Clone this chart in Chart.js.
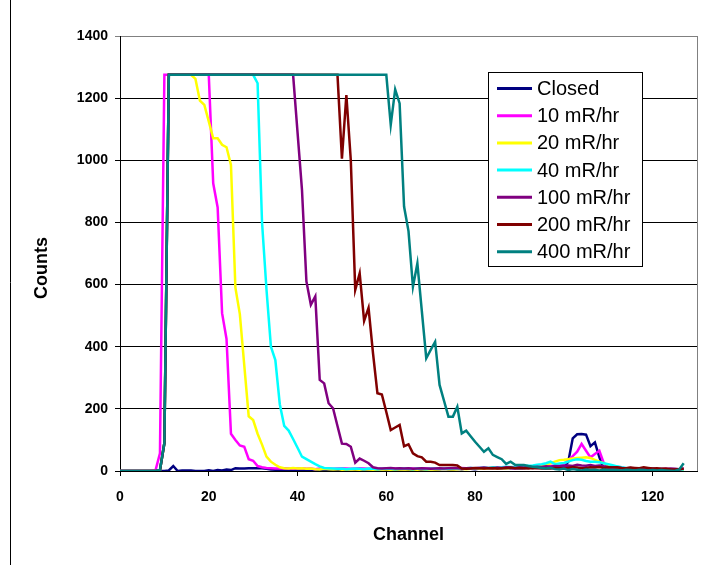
<!DOCTYPE html>
<html>
<head>
<meta charset="utf-8">
<title>Counts vs Channel</title>
<script src="https://cdn.jsdelivr.net/npm/chart.js@4.4.1/dist/chart.umd.min.js"></script>
<style>
  body { margin: 0; background: #fff; }
  #wrap { width: 717px; height: 565px; }
</style>
</head>
<body>
<div id="wrap"><canvas id="spectrumChart" width="717" height="565"></canvas></div>
<script>
// Channel numbers (x values)
const channels = Array.from({ length: 128 }, (_, i) => i);

// Series labels
const seriesLabels = ['Closed', '10 mR/hr', '20 mR/hr', '40 mR/hr', '100 mR/hr', '200 mR/hr', '400 mR/hr'];
const seriesColors = ['#000080', '#ff00ff', '#ffff00', '#00ffff', '#800080', '#800000', '#008080'];

// Axis ticks
const xTicks = [0, 20, 40, 60, 80, 100, 120];
const yTicks = [0, 200, 400, 600, 800, 1000, 1200, 1400];

// Counts per channel
const closed = [
  0, 0, 0, 0, 0, 0, 0, 0, 0, 0, 0, 2, 16, 0, 2, 2,
  2, 0, 0, 0, 2, 0, 3, 2, 5, 3, 9, 8, 8, 9, 9, 9,
  9, 7, 5, 4, 4, 3, 4, 5, 4, 3, 3, 4, 5, 3, 4, 5,
  4, 3, 4, 5, 6, 4, 5, 6, 5, 4, 5, 6, 4, 5, 6, 5,
  6, 4, 5, 6, 5, 6, 7, 5, 6, 7, 6, 5, 7, 6, 8, 7,
  6, 8, 7, 9, 8, 7, 9, 10, 8, 9, 10, 9, 11, 10, 12, 11,
  12, 14, 16, 14, 12, 30, 105, 118, 119, 117, 80, 92, 45, 5, 4, 3,
  4, 3, 2, 3, 4, 2, 3, 2, 3, 4, 2, 3, 2, 4, 3, 6
];
const r10 = [
  0, 0, 0, 0, 0, 0, 0, 0, 2, 57, 1275, 1275, 1275, 1275, 1275, 1275,
  1275, 1275, 1275, 1275, 1275, 926, 848, 508, 425, 120, 100, 82, 78, 38, 33, 16,
  12, 10, 9, 8, 8, 9, 8, 7, 8, 9, 7, 8, 6, 8, 7, 8,
  7, 8, 9, 8, 7, 8, 9, 8, 7, 9, 8, 7, 8, 9, 8, 7,
  8, 9, 8, 7, 9, 8, 7, 8, 9, 8, 9, 8, 9, 10, 9, 8,
  9, 10, 9, 8, 10, 9, 10, 11, 10, 9, 11, 10, 12, 11, 10, 12,
  14, 16, 18, 20, 22, 35, 48, 62, 87, 65, 44, 55, 65, 25, 10, 8,
  7, 6, 7, 5, 6, 5, 6, 5, 6, 5, 6, 7, 5, 6, 5, 7
];
const r20 = [
  0, 0, 0, 0, 0, 0, 0, 0, 0, 2, 90, 1275, 1275, 1275, 1275, 1275,
  1275, 1262, 1192, 1178, 1125, 1071, 1071, 1050, 1042, 985, 590, 505, 340, 176, 164, 120,
  85, 46, 30, 20, 12, 9, 8, 10, 8, 9, 7, 8, 6, 5, 7, 6,
  5, 6, 4, 5, 6, 5, 4, 6, 5, 4, 5, 6, 5, 4, 5, 6,
  5, 6, 5, 4, 6, 5, 6, 5, 6, 7, 6, 5, 6, 7, 6, 7,
  8, 7, 8, 9, 8, 9, 10, 9, 10, 11, 12, 10, 12, 14, 13, 15,
  20, 25, 30, 35, 36, 38, 40, 42, 43, 44, 42, 36, 30, 25, 18, 14,
  12, 10, 9, 8, 7, 6, 5, 6, 5, 4, 5, 4, 5, 4, 3, 4
];
const r40 = [
  0, 0, 0, 0, 0, 0, 0, 0, 0, 2, 90, 1275, 1275, 1275, 1275, 1275,
  1275, 1275, 1275, 1275, 1275, 1275, 1275, 1275, 1275, 1275, 1275, 1275, 1275, 1275, 1275, 1248,
  800, 585, 400, 357, 215, 145, 130, 103, 75, 46, 38, 30, 22, 15, 10, 9,
  8, 7, 8, 6, 7, 8, 7, 6, 8, 7, 6, 7, 8, 7, 6, 7,
  8, 7, 6, 8, 7, 6, 7, 8, 7, 8, 7, 8, 9, 8, 9, 10,
  9, 10, 11, 10, 12, 11, 12, 14, 13, 14, 16, 15, 17, 18, 20, 22,
  25, 30, 22, 24, 26, 30, 35, 38, 36, 32, 30, 30, 28, 25, 22, 19,
  15, 12, 10, 9, 8, 7, 6, 5, 6, 5, 4, 5, 4, 5, 4, 5
];
const r100 = [
  0, 0, 0, 0, 0, 0, 0, 0, 0, 2, 90, 1275, 1275, 1275, 1275, 1275,
  1275, 1275, 1275, 1275, 1275, 1275, 1275, 1275, 1275, 1275, 1275, 1275, 1275, 1275, 1275, 1275,
  1275, 1275, 1275, 1275, 1275, 1275, 1275, 1275, 1090, 905, 610, 535, 562, 293, 282, 218,
  202, 145, 88, 87, 78, 27, 40, 33, 25, 12, 9, 8, 9, 10, 8, 9,
  8, 9, 7, 8, 9, 8, 7, 8, 9, 8, 9, 10, 9, 8, 9, 10,
  9, 10, 11, 10, 9, 11, 10, 12, 11, 10, 12, 11, 13, 12, 14, 13,
  15, 14, 16, 15, 17, 18, 16, 20, 18, 17, 19, 16, 18, 15, 13, 12,
  11, 10, 9, 10, 8, 9, 8, 7, 8, 6, 7, 6, 8, 7, 6, 8
];
const r200 = [
  0, 0, 0, 0, 0, 0, 0, 0, 0, 2, 90, 1275, 1275, 1275, 1275, 1275,
  1275, 1275, 1275, 1275, 1275, 1275, 1275, 1275, 1275, 1275, 1275, 1275, 1275, 1275, 1275, 1275,
  1275, 1275, 1275, 1275, 1275, 1275, 1275, 1275, 1275, 1275, 1275, 1275, 1275, 1275, 1275, 1275,
  1275, 1275, 1005, 1210, 1000, 583, 636, 483, 525, 379, 250, 246, 190, 132, 140, 148,
  80, 86, 57, 48, 44, 30, 30, 27, 19, 19, 19, 19, 18, 8, 7, 8,
  10, 9, 8, 9, 10, 8, 9, 10, 11, 9, 10, 9, 8, 10, 9, 8,
  9, 8, 10, 9, 8, 10, 12, 11, 9, 10, 12, 11, 13, 10, 12, 11,
  12, 10, 9, 11, 10, 9, 12, 10, 8, 9, 7, 8, 6, 5, 6, 7
];
const r400 = [
  0, 0, 0, 0, 0, 0, 0, 0, 0, 3, 90, 1275, 1275, 1275, 1275, 1275,
  1275, 1275, 1275, 1275, 1275, 1275, 1275, 1275, 1275, 1275, 1275, 1275, 1275, 1275, 1275, 1275,
  1275, 1275, 1275, 1275, 1275, 1275, 1275, 1275, 1275, 1275, 1275, 1275, 1275, 1275, 1275, 1275,
  1275, 1275, 1275, 1275, 1275, 1275, 1275, 1275, 1275, 1275, 1275, 1275, 1275, 1114, 1228, 1183,
  851, 772, 593, 668, 515, 363, 390, 416, 277, 226, 175, 175, 207, 121, 130, 112,
  94, 78, 62, 73, 52, 45, 38, 23, 30, 20, 19, 19, 16, 14, 12, 10,
  8, 10, 6, 5, 8, 3, 6, 4, 2, 5, 3, 4, 2, 5, 3, 4,
  3, 2, 4, 3, 2, 4, 3, 2, 3, 2, 3, 2, 1, 0, 5, 25
];

const seriesValues = [closed, r10, r20, r40, r100, r200, r400];
const FONT = "'Liberation Sans', Arial, sans-serif";

// Legend box drawn inside the plot, Excel style
const legendPlugin = {
  id: 'boxLegend',
  afterDraw(chart) {
    const ctx = chart.ctx;
    const bx = 488.5, by = 72.5, bw = 154, bh = 194;
    ctx.save();
    ctx.fillStyle = '#fff';
    ctx.fillRect(bx, by, bw, bh);
    ctx.strokeStyle = '#000';
    ctx.lineWidth = 1;
    ctx.strokeRect(bx, by, bw, bh);
    ctx.font = '20px ' + FONT;
    ctx.textBaseline = 'middle';
    ctx.fillStyle = '#000';
    chart.data.datasets.forEach((ds, i) => {
      const y = 88.5 + i * 27.2;
      ctx.strokeStyle = ds.borderColor;
      ctx.lineWidth = 3;
      ctx.beginPath();
      ctx.moveTo(497, y);
      ctx.lineTo(532, y);
      ctx.stroke();
      ctx.fillText(ds.label, 537, y + 1);
    });
    ctx.restore();
  }
};

// Plot frame (gray right edge), outer chart border and the y title
const framePlugin = {
  id: 'frame',
  beforeDatasetsDraw(chart) {
    const { ctx, chartArea } = chart;
    ctx.save();
    ctx.strokeStyle = '#808080';
    ctx.lineWidth = 1;
    ctx.beginPath();
    ctx.moveTo(Math.round(chartArea.right) + 0.5, chartArea.top);
    ctx.lineTo(Math.round(chartArea.right) + 0.5, chartArea.bottom);
    ctx.stroke();
    ctx.strokeStyle = '#000';
    ctx.beginPath();
    ctx.moveTo(10.5, 0);
    ctx.lineTo(10.5, 565);
    ctx.stroke();

    // Excel puts the y title a bit below the plot middle
    ctx.translate(42, 268);
    ctx.rotate(-Math.PI / 2);
    ctx.font = 'bold 18px ' + FONT;
    ctx.fillStyle = '#000';
    ctx.textAlign = 'center';
    ctx.textBaseline = 'middle';
    ctx.fillText('Counts', 0, 0);
    ctx.restore();
  }
};

// Later series are painted over earlier ones, as in the original
function buildDatasets() {
  return seriesLabels.map((label, i) => ({
    label: label,
    data: channels.map((ch, j) => ({ x: ch, y: seriesValues[i][j] })),
    borderColor: seriesColors[i],
    backgroundColor: seriesColors[i],
    borderWidth: 2.5,
    pointRadius: 0,
    tension: 0,
    fill: false,
    order: seriesLabels.length - i
  }));
}

const ctx = document.getElementById('spectrumChart').getContext('2d');
new Chart(ctx, {
  type: 'line',
  data: { datasets: buildDatasets() },
  options: {
    responsive: false,
    animation: false,
    layout: { padding: { top: 36, right: 20, bottom: 0, left: 0 } },
    plugins: {
      legend: { display: false },
      tooltip: { enabled: false }
    },
    scales: {
      x: {
        type: 'linear',
        min: 0,
        max: 130,
        afterFit: s => { s.height = 94; },
        afterBuildTicks: s => { s.ticks = xTicks.map(v => ({ value: v })); },
        ticks: {
          color: '#000',
          padding: 13,
          callback: v => String(v),
          font: { family: FONT, size: 14, weight: 'bold' }
        },
        grid: { drawOnChartArea: false, drawTicks: true, tickLength: 5, color: '#000' },
        border: { display: true, color: '#000' },
        title: {
          display: true,
          text: 'Channel',
          color: '#000',
          padding: { top: 0, bottom: 19 },
          font: { family: FONT, size: 18, weight: 'bold' }
        }
      },
      y: {
        type: 'linear',
        min: 0,
        max: 1400,
        afterFit: s => { s.width = 120; },
        afterBuildTicks: s => { s.ticks = yTicks.map(v => ({ value: v })); },
        ticks: {
          color: '#000',
          padding: 7,
          callback: v => String(v),
          font: { family: FONT, size: 14, weight: 'bold' }
        },
        grid: {
          drawTicks: true,
          tickLength: 5,
          color: c => (c.tick && c.tick.value === 1400 ? '#808080' : '#000')
        },
        border: { display: true, color: '#000' }
      }
    }
  },
  plugins: [framePlugin, legendPlugin]
});
</script>
</body>
</html>
